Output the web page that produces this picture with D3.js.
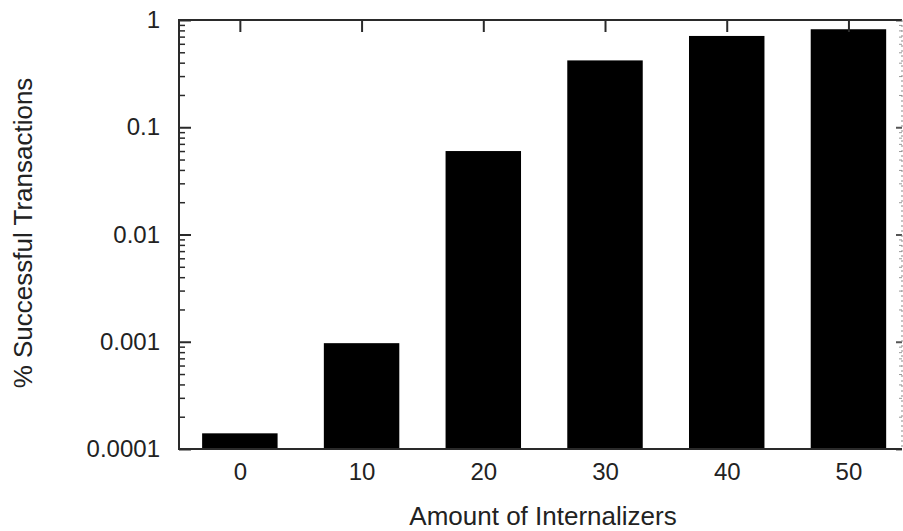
<!DOCTYPE html>
<html>
<head>
<meta charset="utf-8">
<script src="https://cdn.jsdelivr.net/npm/d3@7"></script>
<style>
  body { margin: 0; background: #fff; }
  svg text { font-family: "Liberation Sans", Arial, Helvetica, sans-serif; fill: #222; }
</style>
</head>
<body>
<svg id="chart"></svg>
<script>

var categories = [0, 10, 20, 30, 40, 50]
var successRate = [0.00014, 0.00097, 0.06, 0.42, 0.71, 0.82]
var yMajorTicks = [0.0001, 0.001, 0.01, 0.1, 1]
var yTickLabels = ["0.0001", "0.001", "0.01", "0.1", "1"]

var width = 903
var height = 531

var plotLeft = 179, plotRight = 902, plotTop = 20, plotBottom = 449

var svg = d3.select("#chart")
            .attr("width", width)
            .attr("height", height)

var xScale = d3.scaleLinear()
    .domain([-5, 54.4])
    .range([plotLeft, plotRight])

var yScale = d3.scaleLog()
    .domain([1e-4, 1])
    .range([plotBottom, plotTop])

// minor ticks 2..9 of every decade
var minorTicks = []
for(var e = -4; e < 0; e++){
    for(var m = 2; m < 10; m++){
        minorTicks.push(m * Math.pow(10, e))
    }
}

var frameColor = "#2a2a2a"

// bottom ticks go first so the bars hide them
svg.append("g")
    .attr("transform", "translate(0," + plotBottom + ")")
    .call(d3.axisBottom(xScale).tickValues(categories).tickSizeInner(-12).tickSizeOuter(0).tickPadding(14))
    .call(g => g.select(".domain").remove())
    .call(g => g.selectAll("line").attr("stroke", frameColor).attr("stroke-width", 2))
    .call(g => g.selectAll("text").attr("font-size", "24px").attr("fill", "#222"))

var barWidth = 6.2
svg.selectAll(".bar")
    .data(categories)
    .enter()
    .append("rect")
    .attr("class", "bar")
    .attr("x", function(d){ return xScale(d - barWidth / 2) })
    .attr("width", function(d){ return xScale(barWidth) - xScale(0) })
    .attr("y", function(d, i){ return yScale(successRate[i]) })
    .attr("height", function(d, i){ return plotBottom - yScale(successRate[i]) })
    .attr("fill", "#000")

// top mirror ticks
svg.append("g")
    .attr("transform", "translate(0," + plotTop + ")")
    .call(d3.axisTop(xScale).tickValues(categories).tickSizeInner(-12).tickSizeOuter(0).tickFormat(""))
    .call(g => g.select(".domain").remove())
    .call(g => g.selectAll("line").attr("stroke", frameColor).attr("stroke-width", 2))

// left axis
svg.append("g")
    .attr("transform", "translate(" + plotLeft + ",0)")
    .call(d3.axisLeft(yScale).tickValues(yMajorTicks).tickSizeInner(-12).tickSizeOuter(0).tickPadding(19)
            .tickFormat(function(d, i){ return yTickLabels[i] }))
    .call(g => g.select(".domain").remove())
    .call(g => g.selectAll("line").attr("stroke", frameColor).attr("stroke-width", 2))
    .call(g => g.selectAll("text").attr("font-size", "24px").attr("fill", "#222"))

svg.append("g")
    .attr("transform", "translate(" + plotLeft + ",0)")
    .call(d3.axisLeft(yScale).tickValues(minorTicks).tickSizeInner(-6).tickSizeOuter(0).tickFormat(""))
    .call(g => g.select(".domain").remove())
    .call(g => g.selectAll("line").attr("stroke", frameColor).attr("stroke-width", 1.5))

// right mirror ticks
svg.append("g")
    .attr("transform", "translate(" + plotRight + ",0)")
    .call(d3.axisRight(yScale).tickValues(yMajorTicks).tickSizeInner(-6).tickSizeOuter(0).tickFormat(""))
    .call(g => g.select(".domain").remove())
    .call(g => g.selectAll("line").attr("stroke", "#555").attr("stroke-width", 2))

svg.append("g")
    .attr("transform", "translate(" + plotRight + ",0)")
    .call(d3.axisRight(yScale).tickValues(minorTicks).tickSizeInner(-3).tickSizeOuter(0).tickFormat(""))
    .call(g => g.select(".domain").remove())
    .call(g => g.selectAll("line").attr("stroke", "#999").attr("stroke-width", 1))

// frame
svg.append("path")
    .attr("d", "M" + plotRight + "," + plotTop + "H" + plotLeft + "V" + plotBottom + "H" + plotRight)
    .attr("fill", "none")
    .attr("stroke", frameColor)
    .attr("stroke-width", 2)

svg.append("line")
    .attr("x1", plotRight).attr("x2", plotRight)
    .attr("y1", plotTop).attr("y2", plotBottom)
    .attr("stroke", "#888")
    .attr("stroke-width", 1)
    .attr("stroke-dasharray", "2,3")

svg.append("text")
    .attr("x", 543)
    .attr("y", 525)
    .attr("text-anchor", "middle")
    .attr("font-size", "26px")
    .text("Amount of Internalizers")

svg.append("text")
    .attr("transform", "translate(32,233) rotate(-90)")
    .attr("text-anchor", "middle")
    .attr("font-size", "26px")
    .text("% Successful Transactions")

</script>
</body>
</html>
